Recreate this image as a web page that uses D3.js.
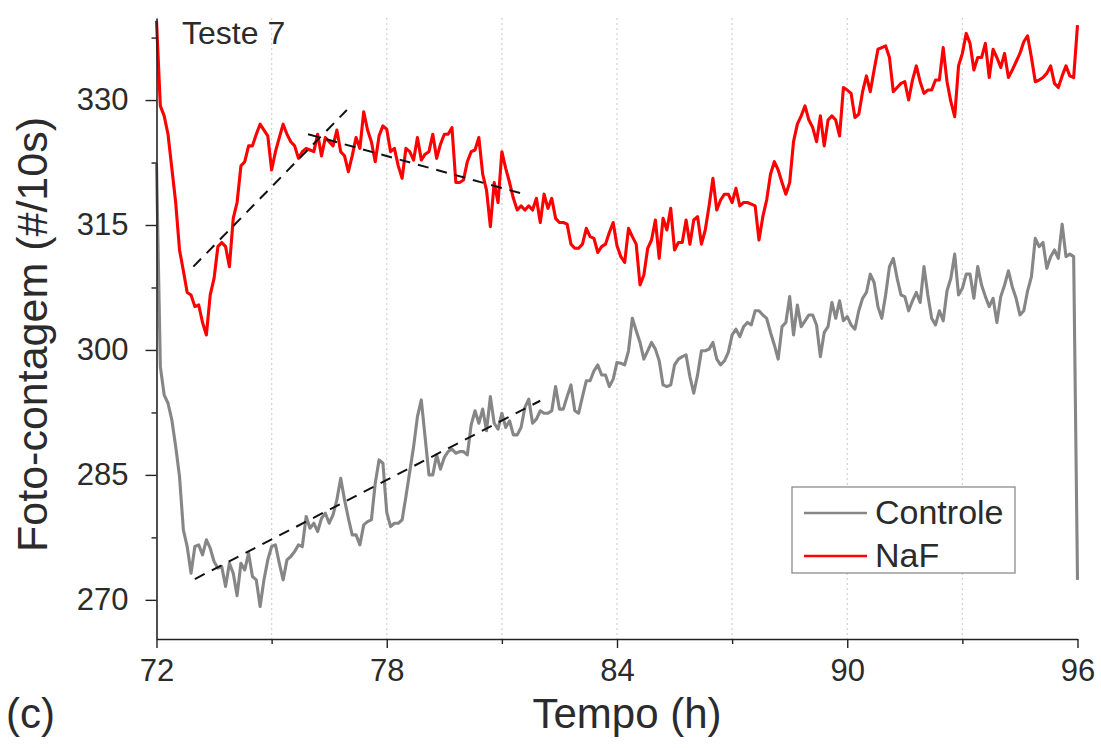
<!DOCTYPE html>
<html>
<head>
<meta charset="utf-8">
<script src="https://cdn.jsdelivr.net/npm/d3@7"></script>
<style>
  html, body { margin: 0; padding: 0; background: #fff; }
  svg { display: block; font-family: "Liberation Sans", Arial, sans-serif; }
</style>
</head>
<body>
<svg id="chart" width="1101" height="748"></svg>
<script>
// Photon counts per 10 s, sampled every 0.1 h from 72 h to 96 h (one row per hour).
const hourStart = 72;
const hourStep = 0.1;

const controle = [
  322.4, 298.0, 294.6, 293.6, 291.6, 288.4, 284.8, 278.4, 276.4, 273.2,
  276.4, 276.6, 275.4, 277.2, 276.2, 274.6, 273.8, 274.0, 271.6, 274.4,
  273.2, 270.5, 274.4, 273.6, 275.6, 272.8, 272.4, 269.2, 272.4, 274.8,
  276.4, 276.6, 274.4, 272.4, 274.8, 275.2, 275.8, 276.6, 276.4, 280.0,
  278.6, 279.2, 278.2, 279.8, 280.4, 279.2, 280.2, 282.0, 284.6, 282.0,
  279.8, 277.8, 277.8, 276.6, 279.0, 279.4, 279.6, 284.0, 286.8, 286.4,
  280.5, 278.8, 279.2, 279.2, 279.6, 282.4, 285.4, 288.4, 292.0, 294.0,
  289.5, 285.0, 285.0, 287.4, 285.7, 287.1, 287.8, 288.1, 287.6, 287.8,
  287.8, 287.4, 291.0, 292.7, 291.2, 292.9, 290.3, 294.4, 291.2, 290.5,
  292.4, 290.7, 291.5, 289.8, 289.8, 290.7, 293.1, 294.1, 291.2, 291.7,
  292.7, 292.4, 292.4, 292.7, 295.6, 292.9, 292.9, 294.4, 295.8, 292.7,
  292.4, 294.4, 296.3, 296.3, 297.5, 298.2, 297.0, 297.0, 295.6, 296.5,
  298.5, 298.4, 298.2, 299.9, 303.8, 302.3, 300.9, 298.9, 299.9, 300.9,
  300.1, 298.7, 295.8, 295.6, 295.8, 298.2, 298.9, 299.2, 299.4, 296.8,
  294.8, 297.0, 299.9, 299.9, 300.1, 300.9, 298.9, 298.2, 298.7, 299.7,
  301.8, 302.5, 301.6, 302.8, 303.3, 303.0, 304.7, 304.7, 304.2, 303.8,
  302.1, 300.6, 298.9, 302.8, 303.3, 306.4, 301.8, 305.4, 302.8, 303.5,
  304.2, 304.2, 303.0, 299.2, 302.1, 302.8, 305.7, 303.8, 305.9, 303.5,
  304.0, 303.0, 302.5, 304.7, 306.2, 306.9, 309.1, 308.1, 305.2, 303.8,
  306.6, 310.0, 311.0, 308.6, 306.6, 306.4, 304.7, 305.9, 306.9, 305.7,
  310.0, 306.6, 303.8, 303.0, 304.7, 303.5, 307.1, 308.6, 311.5, 306.6,
  307.4, 309.1, 309.1, 306.2, 310.0, 307.8, 306.4, 305.2, 306.2, 303.3,
  306.4, 307.8, 309.5, 307.6, 306.2, 304.2, 304.7, 307.1, 308.8, 313.4,
  312.4, 312.9, 309.8, 311.2, 312.0, 311.0, 315.1, 311.2, 311.5, 311.2,
  272.4
];

const naf = [
  339.5, 329.3, 328.1, 325.9, 321.8, 317.7, 312.0, 309.5, 306.9, 306.6,
  305.2, 305.4, 303.3, 301.8, 306.6, 308.6, 312.4, 312.9, 312.4, 310.0,
  315.8, 317.7, 322.1, 322.6, 324.5, 324.5, 325.9, 327.1, 326.4, 325.7,
  321.6, 323.8, 325.5, 327.1, 325.9, 325.0, 324.5, 323.0, 323.8, 324.2,
  324.0, 323.8, 325.9, 323.3, 325.5, 325.0, 324.5, 326.4, 323.8, 323.3,
  321.4, 323.3, 325.5, 324.2, 328.6, 326.4, 325.0, 322.6, 325.7, 326.9,
  326.5, 323.8, 324.2, 322.1, 320.6, 324.2, 323.8, 322.8, 325.5, 322.8,
  323.5, 323.8, 325.9, 323.0, 324.7, 325.9, 325.9, 326.7, 320.1, 320.1,
  320.4, 322.6, 323.8, 324.0, 325.5, 321.1, 319.2, 314.8, 320.1, 317.7,
  323.8, 321.8, 320.1, 318.2, 316.8, 317.3, 316.8, 317.3, 316.8, 318.2,
  315.3, 318.7, 317.0, 318.2, 315.8, 315.3, 315.3, 315.1, 312.7, 312.2,
  312.2, 312.7, 314.6, 313.6, 313.4, 311.7, 312.4, 312.7, 314.1, 315.3,
  312.5, 311.2, 310.5, 314.6, 313.6, 312.7, 307.8, 309.0, 312.2, 313.2,
  315.6, 311.0, 315.8, 314.4, 317.0, 312.0, 312.9, 312.9, 315.6, 312.7,
  315.6, 316.0, 312.7, 314.4, 317.3, 320.6, 316.8, 318.0, 318.7, 318.7,
  317.7, 319.4, 317.3, 317.7, 317.7, 317.5, 317.3, 313.2, 316.0, 318.0,
  321.1, 322.6, 321.6, 320.1, 318.7, 320.1, 325.0, 327.1, 328.1, 329.3,
  327.6, 326.7, 325.0, 328.1, 324.5, 327.6, 328.1, 327.6, 325.7, 331.5,
  331.2, 330.8, 327.9, 328.3, 331.0, 332.9, 331.0, 333.6, 336.1, 336.3,
  336.5, 335.1, 331.0, 331.5, 332.0, 332.2, 330.0, 332.4, 334.1, 332.2,
  330.8, 331.2, 331.2, 332.4, 332.4, 336.3, 332.2, 329.8, 328.0, 334.1,
  335.6, 338.0, 336.8, 333.6, 335.1, 335.1, 336.8, 332.7, 336.1, 335.1,
  333.9, 335.6, 332.7, 333.6, 334.6, 335.6, 337.0, 337.7, 335.1, 332.2,
  332.4, 332.7, 333.2, 334.1, 332.0, 331.5, 332.9, 334.1, 332.9, 332.7,
  339.0
];

// Linear trend segments drawn as dashed guides: [hour, count] end points.
const trendNafRise = [[72.96, 310.0], [76.96, 328.8]];
const trendNafFall = [[75.95, 325.9], [81.5, 318.8]];
const trendControle = [[73.0, 272.5], [82.0, 293.9]];

const xMajorTicks = [72, 78, 84, 90, 96];
const xMinorTicks = [75, 81, 87, 93];
const yMajorTicks = [270, 285, 300, 315, 330];
const yMinorTicks = [277.5, 292.5, 307.5, 322.5, 337.5];
const gridHours = [75, 78, 81, 84, 87, 90, 93];

const seriesNames = ["Controle", "NaF"];
const seriesColors = ["#868686", "#ff0000"];

const svg = d3.select("#chart");
const W = 1101, H = 748;
svg.append("rect").attr("width", W).attr("height", H).attr("fill", "#fff");

const plot = { left: 156.5, right: 1077.5, top: 18, bottom: 639 };

const x = d3.scaleLinear().domain([72, 96]).range([plot.left, plot.right]);
const y = d3.scaleLinear().domain([265.3, 339.85]).range([plot.bottom, plot.top]);

const hourAt = i => hourStart + i * hourStep;

// light dotted vertical grid
svg.append("g")
  .selectAll("line")
  .data(gridHours)
  .join("line")
  .attr("x1", d => x(d)).attr("x2", d => x(d))
  .attr("y1", plot.top).attr("y2", plot.bottom)
  .attr("stroke", "#d4d4d4")
  .attr("stroke-width", 1.3)
  .attr("stroke-dasharray", "2,3");

// series
const line = d3.line()
  .x((d, i) => x(hourAt(i)))
  .y(d => y(d));

[controle, naf].forEach((vals, k) => {
  svg.append("path")
    .datum(vals)
    .attr("d", line)
    .attr("fill", "none")
    .attr("stroke", seriesColors[k])
    .attr("stroke-width", 3.1)
    .attr("stroke-linejoin", "round");
});

// dashed trend lines
const trendLine = d3.line().x(d => x(d[0])).y(d => y(d[1]));
[trendNafRise, trendNafFall, trendControle].forEach(seg => {
  svg.append("path")
    .datum(seg)
    .attr("d", trendLine)
    .attr("fill", "none")
    .attr("stroke", "#111")
    .attr("stroke-width", 2)
    .attr("stroke-dasharray", "11,8");
});

// axes
const axisColor = "#222";
const textColor = "#2b2b2b";
const tickFont = 31;

svg.append("g").attr("transform", `translate(0,${plot.bottom})`)
  .call(d3.axisBottom(x).tickValues(xMajorTicks).tickSize(9).tickPadding(11).tickSizeOuter(0));
svg.append("g").attr("transform", `translate(0,${plot.bottom})`)
  .call(d3.axisBottom(x).tickValues(xMinorTicks).tickSize(5).tickFormat("").tickSizeOuter(0))
  .call(g => g.select(".domain").remove());

svg.append("g").attr("transform", `translate(${plot.left},0)`)
  .call(d3.axisLeft(y).tickValues(yMajorTicks).tickSize(11).tickPadding(17).tickSizeOuter(0));
svg.append("g").attr("transform", `translate(${plot.left},0)`)
  .call(d3.axisLeft(y).tickValues(yMinorTicks).tickSize(5).tickFormat("").tickSizeOuter(0))
  .call(g => g.select(".domain").remove());

svg.selectAll(".domain").attr("stroke", axisColor).attr("stroke-width", 1.6);
svg.selectAll(".tick line").attr("stroke", axisColor).attr("stroke-width", 1.4);
svg.selectAll(".tick text")
  .attr("fill", textColor)
  .style("font-size", tickFont + "px")
  .style("font-family", "'Liberation Sans', Arial, sans-serif");

// titles
svg.append("text")
  .attr("x", 182).attr("y", 44)
  .attr("fill", textColor)
  .style("font-size", "32px")
  .text("Teste 7");

svg.append("text")
  .attr("transform", `translate(47,${(plot.top + plot.bottom) / 2 + 6}) rotate(-90)`)
  .attr("text-anchor", "middle")
  .attr("fill", textColor)
  .style("font-size", "43px")
  .text("Foto-contagem (#/10s)");

svg.append("text")
  .attr("x", 627).attr("y", 728)
  .attr("text-anchor", "middle")
  .attr("fill", textColor)
  .style("font-size", "42px")
  .text("Tempo (h)");

svg.append("text")
  .attr("x", 6).attr("y", 728)
  .attr("fill", textColor)
  .style("font-size", "42px")
  .text("(c)");

// legend
const legend = svg.append("g").attr("transform", "translate(792,487)");
legend.append("rect")
  .attr("width", 223).attr("height", 86)
  .attr("fill", "#fff")
  .attr("stroke", "#8c8c8c")
  .attr("stroke-width", 1.3);
const rows = legend.selectAll("g.row")
  .data(seriesNames)
  .join("g")
  .attr("class", "row")
  .attr("transform", (d, i) => `translate(0,${26 + i * 43})`);
rows.append("line")
  .attr("x1", 12).attr("x2", 75)
  .attr("stroke", (d, i) => seriesColors[i])
  .attr("stroke-width", 2.6);
rows.append("text")
  .attr("x", 83).attr("y", 11)
  .attr("fill", textColor)
  .style("font-size", "34px")
  .text(d => d);
</script>
</body>
</html>
